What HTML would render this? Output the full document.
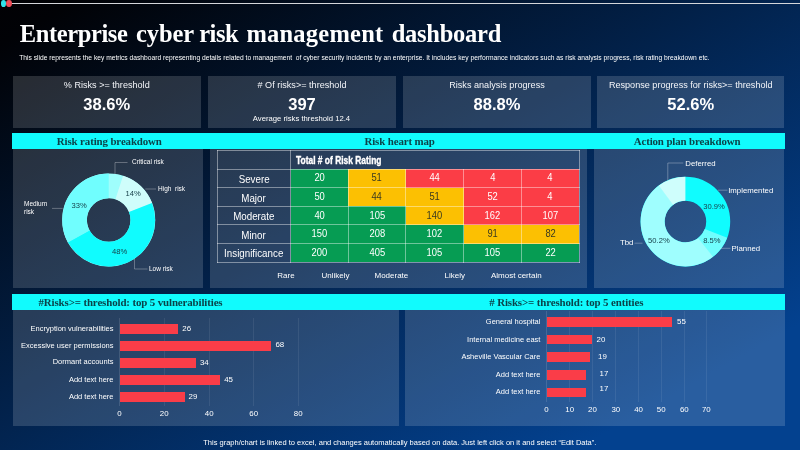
<!DOCTYPE html>
<html lang="en">
<head>
<meta charset="utf-8">
<title>Enterprise cyber risk management dashboard</title>
<style>
*{box-sizing:border-box;margin:0;padding:0}
html,body{width:800px;height:450px;overflow:hidden}
body{position:relative;font-family:"Liberation Sans",sans-serif;color:#fff;
 background:#03418f linear-gradient(to bottom right,#010104 0%,#010206 5%,#03418f 86%,#03418f 100%);}
#stage{position:absolute;left:0;top:0;width:800px;height:450px;will-change:transform}
.abs{position:absolute}
.topline{left:11px;top:2.5px;width:789px;height:1.7px;background:#d4d6da}
.dot{width:5.6px;height:6.9px;border-radius:50%;top:0}
.title{left:19.8px;top:17.6px;font-family:"Liberation Serif","DejaVu Serif",serif;font-weight:bold;font-size:24.5px;line-height:32px;white-space:nowrap;color:#fff;letter-spacing:-0.03px}
.sub{left:19.2px;top:53.3px;font-size:6.7px;line-height:10px;white-space:nowrap;color:#fff}
.kpi{top:76px;height:51.6px;background:rgba(255,255,255,.152);text-align:center}
.kpi .l{position:absolute;left:0;right:0;top:2.9px;font-size:9.5px;line-height:12px;white-space:nowrap;color:#f4f6fa;transform:scaleX(.957)}
.kpi .v{position:absolute;left:0;right:0;top:17.2px;font-size:17.4px;line-height:22px;font-weight:bold;white-space:nowrap;transform:scaleX(.95)}
.kpi .s{position:absolute;left:0;right:0;top:38.6px;font-size:7.7px;line-height:9px;white-space:nowrap}
.band{left:12px;width:773px;height:15.6px;background:#11fbfd}
.bt{font-family:"Liberation Serif","DejaVu Serif",serif;font-weight:bold;font-size:10.9px;letter-spacing:-0.12px;line-height:15.6px;color:#0b4249;white-space:nowrap;text-align:center}
.panel{background:rgba(255,255,255,.152)}
.lbl{font-size:6.5px;line-height:8px;white-space:nowrap;color:#fff}
.lbl2{font-size:7.8px;line-height:9px;white-space:nowrap;color:#fff}
.pct{font-size:7.6px;line-height:9px;white-space:nowrap;color:#143c46;text-align:center;width:40px;margin-left:-20px}
table.hm{position:absolute;left:216.5px;top:149.9px;border-collapse:collapse;table-layout:fixed;width:362px}
table.hm td{height:18.63px;border:1px solid rgba(255,255,255,.42);text-align:center;vertical-align:middle;font-size:10.1px;line-height:10px;padding:0;color:#fff;white-space:nowrap}
table.hm td.r{font-size:10.8px;color:#fff;padding-top:1.2px}
table.hm td span{display:inline-block;transform:scaleX(.93)}
table.hm td.r span{transform:scaleX(.905)}
table.hm td.h{text-align:left;font-weight:bold;font-size:10px;padding-left:4.6px;padding-top:1.2px}
table.hm td.h span{display:inline-block;position:relative;top:.9px;-webkit-text-stroke:.35px #fff;transform:scaleX(.842);transform-origin:0 50%}
.g{background:#069c53}.y{background:#fcc002;color:#3a3a20 !important}.rd{background:#fb3d46}
.ax{font-size:8px;line-height:9px;white-space:nowrap;color:#fff;text-align:center;width:80px;margin-left:-40px;top:270.5px}
.bar{background:#fa3d48;height:10px}
.bl{font-size:8.1px;line-height:10px;white-space:nowrap;text-align:right;color:#fff;transform:scaleX(.926);transform-origin:100% 50%}
.bv{font-size:7.9px;line-height:10px;white-space:nowrap;color:#fff}
.tick{font-size:7.9px;line-height:10px;white-space:nowrap;color:#fff;text-align:center;width:30px;margin-left:-15px}
.grid{width:1px;background:rgba(255,255,255,.075)}
.foot{left:0;width:799.6px;top:438.1px;text-align:center;font-size:7.5px;line-height:10px;white-space:nowrap;color:#fff}
</style>
</head>
<body>
<div id="stage">
<div class="abs topline"></div>
<div class="abs dot" style="left:0.6px;background:#2fe3ea"></div>
<div class="abs dot" style="left:6.4px;background:#ef4e5a"></div>

<div class="abs title"><span style="letter-spacing:-.39px">Enterprise</span> <span style="letter-spacing:-.15px;margin-left:2.5px">cyber</span> <span style="letter-spacing:-.46px;margin-left:-.8px">risk</span> <span style="letter-spacing:.23px;margin-left:2.1px">management</span> <span style="letter-spacing:-.24px;margin-left:2.1px">dashboard</span></div>
<div class="abs sub">This slide represents the key metrics dashboard representing details related to management&nbsp; of cyber security incidents by an enterprise. It includes key performance indicators such as risk analysis progress, risk rating breakdown etc.</div>

<div class="abs kpi" style="left:13px;width:187.5px"><div class="l">% Risks &gt;= threshold</div><div class="v">38.6%</div></div>
<div class="abs kpi" style="left:207.5px;width:188px"><div class="l"># Of risks&gt;= threshold</div><div class="v" style="top:16.5px">397</div><div class="s" style="top:38.1px">Average risks threshold 12.4</div></div>
<div class="abs kpi" style="left:402.5px;width:188px"><div class="l">Risks analysis progress</div><div class="v">88.8%</div></div>
<div class="abs kpi" style="left:596.5px;width:187.5px"><div class="l">Response progress for risks&gt;= threshold</div><div class="v">52.6%</div></div>

<div class="abs band" style="top:133px"></div>
<div class="abs bt" style="left:14.3px;width:190px;top:134.1px">Risk rating breakdown</div>
<div class="abs bt" style="left:211.1px;width:377px;top:134.1px">Risk heart map</div>
<div class="abs bt" style="left:592.1px;width:190px;top:134.1px">Action plan breakdown</div>

<div class="abs panel" style="left:13px;top:148.6px;width:190px;height:139.4px"></div>
<div class="abs panel" style="left:210px;top:148.6px;width:377px;height:139.4px"></div>
<div class="abs panel" style="left:594px;top:148.6px;width:190px;height:139.4px"></div>

<!-- donut 1 -->
<svg class="abs" style="left:0;top:150px" width="800" height="140" viewBox="0 150 800 140">
 <g id="d1">
  <circle cx="108.7" cy="220" r="34.15" fill="none" stroke="#9ffefc" stroke-width="24.7"/>
  <path d="M123.07,175.78 A46.5,46.5 0 0 1 152.11,203.34 L129.05,212.19 A21.8,21.8 0 0 0 115.44,199.27 Z" fill="#cffdfb"/>
  <path d="M151.93,202.88 A46.5,46.5 0 0 1 67.72,241.97 L89.49,230.30 A21.8,21.8 0 0 0 128.97,211.97 Z" fill="#10fcfe"/>
  <path d="M67.95,242.40 A46.5,46.5 0 0 1 108.70,173.50 L108.70,198.20 A21.8,21.8 0 0 0 89.60,230.50 Z" fill="#70fefe"/>
 </g>
 <g id="d2">
  <circle cx="685.4" cy="221.6" r="32.8" fill="none" stroke="#10fcfe" stroke-width="23.999999999999996"/>
  <path d="M727.17,237.80 A44.8,44.8 0 0 1 712.73,257.09 L698.09,238.08 A20.8,20.8 0 0 0 704.79,229.12 Z" fill="#70fefe"/>
  <path d="M713.10,256.81 A44.8,44.8 0 1 1 659.13,185.31 L673.20,204.75 A20.8,20.8 0 1 0 698.26,237.95 Z" fill="#9ffefe"/>
  <path d="M658.75,185.59 A44.8,44.8 0 0 1 685.40,176.80 L685.40,200.80 A20.8,20.8 0 0 0 673.03,204.88 Z" fill="#cffefc"/>
 </g>
 <g fill="none" stroke="rgba(255,255,255,.45)" stroke-width="0.65">
  <polyline points="115,174 115,162.5 127.5,162.5"/>
  <polyline points="145.3,189 156,189"/>
  <polyline points="134.5,259 134.5,269 147.5,269"/>
  <polyline points="52,208.4 62.6,208.4"/>
  <polyline points="667.8,180 667.8,163 683.3,163"/>
  <polyline points="718,190.2 727.5,190.2"/>
  <polyline points="720,248.3 730.5,248.3"/>
  <polyline points="634.5,243.2 642.5,243.2"/>
 </g>
</svg>

<div class="abs lbl" style="left:132px;top:158px">Critical risk</div>
<div class="abs lbl" style="left:158px;top:185px">High&nbsp; risk</div>
<div class="abs lbl" style="left:149px;top:264.5px">Low risk</div>
<div class="abs lbl" style="left:24px;top:199.6px;line-height:8.4px">Medium<br>risk</div>
<div class="abs pct" style="left:133.1px;top:189.4px">14%</div>
<div class="abs pct" style="left:79.2px;top:201.2px">33%</div>
<div class="abs pct" style="left:119.7px;top:247.4px">48%</div>

<div class="abs lbl2" style="left:685.3px;top:158.7px">Deferred</div>
<div class="abs lbl2" style="left:728.2px;top:185.8px">Implemented</div>
<div class="abs lbl2" style="left:731.6px;top:243.8px">Planned</div>
<div class="abs lbl2" style="left:620px;top:237.7px">Tbd</div>
<div class="abs pct" style="left:714px;top:202.2px">30.9%</div>
<div class="abs pct" style="left:711.8px;top:235.5px">8.5%</div>
<div class="abs pct" style="left:658.9px;top:235.5px">50.2%</div>

<table class="hm">
<colgroup><col style="width:73.5px"><col style="width:57.7px"><col style="width:57.7px"><col style="width:57.7px"><col style="width:57.7px"><col style="width:57.7px"></colgroup>
<tr><td></td><td class="h" colspan="5"><span>Total # of Risk Rating</span></td></tr>
<tr><td class="r"><span>Severe</span></td><td class="g"><span>20</span></td><td class="y"><span>51</span></td><td class="rd"><span>44</span></td><td class="rd"><span>4</span></td><td class="rd"><span>4</span></td></tr>
<tr><td class="r"><span>Major</span></td><td class="g"><span>50</span></td><td class="y"><span>44</span></td><td class="y"><span>51</span></td><td class="rd"><span>52</span></td><td class="rd"><span>4</span></td></tr>
<tr><td class="r"><span>Moderate</span></td><td class="g"><span>40</span></td><td class="g"><span>105</span></td><td class="y"><span>140</span></td><td class="rd"><span>162</span></td><td class="rd"><span>107</span></td></tr>
<tr><td class="r"><span>Minor</span></td><td class="g"><span>150</span></td><td class="g"><span>208</span></td><td class="g"><span>102</span></td><td class="y"><span>91</span></td><td class="y"><span>82</span></td></tr>
<tr><td class="r"><span>Insignificance</span></td><td class="g"><span>200</span></td><td class="g"><span>405</span></td><td class="g"><span>105</span></td><td class="g"><span>105</span></td><td class="g"><span>22</span></td></tr>
</table>
<div class="abs ax" style="left:286px">Rare</div>
<div class="abs ax" style="left:335.5px">Unlikely</div>
<div class="abs ax" style="left:391.4px">Moderate</div>
<div class="abs ax" style="left:454.8px">Likely</div>
<div class="abs ax" style="left:516.3px">Almost certain</div>

<div class="abs band" style="top:294px;height:16.4px"></div>
<div class="abs bt" style="left:15.5px;width:230px;top:294.7px">#Risks&gt;= threshold: top 5 vulnerabilities</div>
<div class="abs bt" style="left:481.3px;width:170px;top:294.7px"># Risks&gt;= threshold: top 5 entities</div>

<div class="abs panel" style="left:12.5px;top:310.4px;width:386px;height:115.4px"></div>
<div class="abs panel" style="left:405px;top:310.4px;width:380px;height:115.4px"></div>

<!-- left bar chart -->
<div class="abs grid" style="left:119px;top:318px;height:88px;background:rgba(255,255,255,.12)"></div>
<div class="abs grid" style="left:163.8px;top:318px;height:88px"></div>
<div class="abs grid" style="left:209px;top:318px;height:88px"></div>
<div class="abs grid" style="left:253.3px;top:318px;height:88px"></div>
<div class="abs grid" style="left:298.2px;top:318px;height:88px"></div>

<div class="abs bar" style="left:119.5px;top:324px;width:58px"></div>
<div class="abs bar" style="left:119.5px;top:340.8px;width:151.8px"></div>
<div class="abs bar" style="left:119.5px;top:357.7px;width:76.2px"></div>
<div class="abs bar" style="left:119.5px;top:374.5px;width:100.5px"></div>
<div class="abs bar" style="left:119.5px;top:391.5px;width:65px"></div>

<div class="abs bl" style="left:0;width:113.5px;top:324px">Encryption vulnerabilities</div>
<div class="abs bl" style="left:0;width:113.5px;top:340.5px">Excessive user permissions</div>
<div class="abs bl" style="left:0;width:113.5px;top:357.3px">Dormant accounts</div>
<div class="abs bl" style="left:0;width:113.5px;top:374.7px">Add text here</div>
<div class="abs bl" style="left:0;width:113.5px;top:392px">Add text here</div>

<div class="abs bv" style="left:182.3px;top:323.8px">26</div>
<div class="abs bv" style="left:275.4px;top:340.4px">68</div>
<div class="abs bv" style="left:199.9px;top:358.2px">34</div>
<div class="abs bv" style="left:224.2px;top:374.8px">45</div>
<div class="abs bv" style="left:188.6px;top:391.8px">29</div>

<div class="abs tick" style="left:119.5px;top:409px">0</div>
<div class="abs tick" style="left:164.2px;top:409px">20</div>
<div class="abs tick" style="left:209.2px;top:409px">40</div>
<div class="abs tick" style="left:253.7px;top:409px">60</div>
<div class="abs tick" style="left:298.2px;top:409px">80</div>

<!-- right bar chart -->
<div class="abs grid" style="left:546.0px;top:311px;height:91px;background:rgba(255,255,255,.12)"></div>
<div class="abs grid" style="left:569.2px;top:311px;height:91px"></div>
<div class="abs grid" style="left:592.0px;top:311px;height:91px"></div>
<div class="abs grid" style="left:615.3px;top:311px;height:91px"></div>
<div class="abs grid" style="left:638.1px;top:311px;height:91px"></div>
<div class="abs grid" style="left:660.7px;top:311px;height:91px"></div>
<div class="abs grid" style="left:683.8px;top:311px;height:91px"></div>
<div class="abs grid" style="left:705.8px;top:311px;height:91px"></div>
<div class="abs bar" style="left:546.5px;top:317.1px;width:125.6px;height:9.8px"></div>
<div class="abs bar" style="left:546.5px;top:334.6px;width:45.9px;height:9.8px"></div>
<div class="abs bar" style="left:546.5px;top:352.3px;width:43.5px;height:9.8px"></div>
<div class="abs bar" style="left:546.5px;top:370.1px;width:39.3px;height:9.8px"></div>
<div class="abs bar" style="left:546.5px;top:387.6px;width:39.3px;height:9.8px"></div>
<div class="abs bl" style="left:420px;width:120.4px;top:317.2px">General hospital</div>
<div class="abs bl" style="left:420px;width:120.4px;top:335px">Internal medicine east</div>
<div class="abs bl" style="left:420px;width:120.4px;top:352.1px">Asheville Vascular Care</div>
<div class="abs bl" style="left:420px;width:120.4px;top:369.7px">Add text here</div>
<div class="abs bl" style="left:420px;width:120.4px;top:386.8px">Add text here</div>
<div class="abs bv" style="left:677px;top:317.2px">55</div>
<div class="abs bv" style="left:596.6px;top:335px">20</div>
<div class="abs bv" style="left:598px;top:351.9px">19</div>
<div class="abs bv" style="left:599.5px;top:369.2px">17</div>
<div class="abs bv" style="left:599.5px;top:384.4px">17</div>
<div class="abs tick" style="left:546.5px;top:404.7px">0</div>
<div class="abs tick" style="left:569.7px;top:404.7px">10</div>
<div class="abs tick" style="left:592.5px;top:404.7px">20</div>
<div class="abs tick" style="left:615.8px;top:404.7px">30</div>
<div class="abs tick" style="left:638.6px;top:404.7px">40</div>
<div class="abs tick" style="left:661.2px;top:404.7px">50</div>
<div class="abs tick" style="left:684.3px;top:404.7px">60</div>
<div class="abs tick" style="left:706.3px;top:404.7px">70</div>

<div class="abs foot">This graph/chart is linked to excel, and changes automatically based on data. Just left click on it and select “Edit Data”.</div>
</div>
</body>
</html>
